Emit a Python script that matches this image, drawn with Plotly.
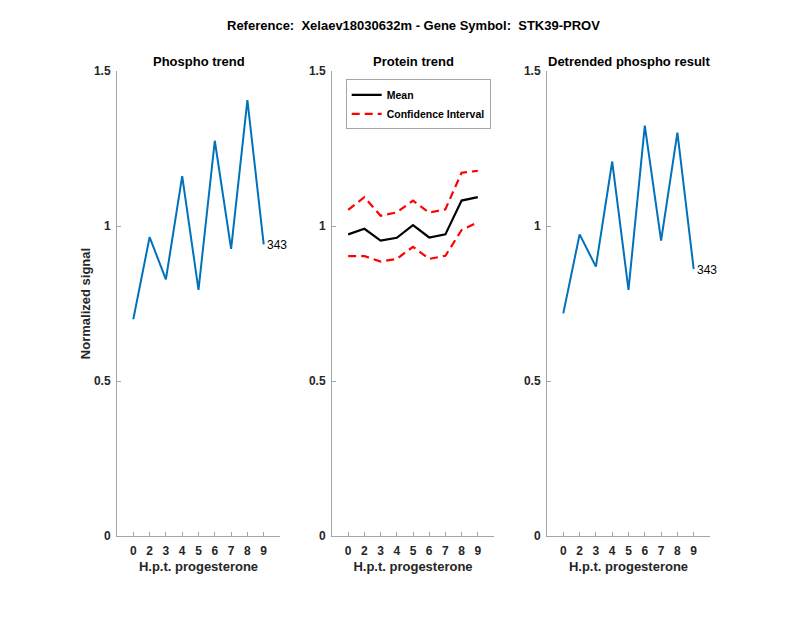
import plotly.graph_objects as go

hours = ["0", "2", "3", "4", "5", "6", "7", "8", "9"]
phospho = [0.699, 0.964, 0.828, 1.161, 0.794, 1.275, 0.926, 1.406, 0.941]
protein_mean = [0.973, 0.991, 0.953, 0.962, 1.003, 0.963, 0.973, 1.082, 1.093]
protein_upper = [1.052, 1.093, 1.033, 1.044, 1.082, 1.043, 1.054, 1.172, 1.178]
protein_lower = [0.903, 0.903, 0.885, 0.894, 0.933, 0.894, 0.904, 0.987, 1.012]
detrended = [0.718, 0.973, 0.869, 1.208, 0.794, 1.324, 0.953, 1.301, 0.861]
peptide_label = "343"
yticks = [0, 0.5, 1, 1.5]
ytick_text = ["0", "0.5", "1", "1.5"]

BLUE = "#0072BD"
FONT = "Liberation Sans, Arial, Helvetica, sans-serif"
AXCOL = "#a6a6a6"
TXT = "#262626"

W, H = 800, 618
OFF = 8  # page body offset


def px(x):
    return (x - OFF) / W


def py(y):
    return 1 - (y - OFF) / H


fig = go.Figure()

fig.add_trace(go.Scatter(x=hours, y=phospho, mode="lines", line=dict(color=BLUE, width=2),
                         showlegend=False, xaxis="x", yaxis="y"))
fig.add_trace(go.Scatter(x=hours, y=protein_mean, mode="lines", name="Mean",
                         line=dict(color="black", width=2.2), xaxis="x2", yaxis="y2"))
fig.add_trace(go.Scatter(x=hours, y=protein_upper, mode="lines", name="Confidence Interval",
                         line=dict(color="#ff0000", width=2.2, dash="8px,5px"), xaxis="x2", yaxis="y2"))
fig.add_trace(go.Scatter(x=hours, y=protein_lower, mode="lines", name="Confidence Interval",
                         line=dict(color="#ff0000", width=2.2, dash="8px,5px"), showlegend=False,
                         xaxis="x2", yaxis="y2"))
fig.add_trace(go.Scatter(x=hours, y=detrended, mode="lines", line=dict(color=BLUE, width=2),
                         showlegend=False, xaxis="x3", yaxis="y3"))

ydom = [py(536), py(71)]
xdoms = [[px(117), px(280)], [px(332), px(494)], [px(547), px(710)]]


def xax(dom, anchor):
    return dict(domain=dom, anchor=anchor, type="category", categoryorder="array",
                categoryarray=hours, range=[-1, 9], showline=True, linecolor=AXCOL, linewidth=1,
                ticks="inside", ticklen=4, tickcolor=AXCOL, showgrid=False, zeroline=False,
                automargin=False, ticklabelstandoff=4,
                tickfont=dict(family=FONT, size=12, color=TXT, weight="bold"),
                title=dict(text="H.p.t. progesterone", standoff=4,
                           font=dict(family=FONT, size=13, color=TXT, weight="bold")))


def yax(dom, anchor, title=None):
    d = dict(domain=dom, anchor=anchor, range=[0, 1.5], tickvals=yticks, ticktext=ytick_text,
             showline=True, linecolor=AXCOL, linewidth=1, ticks="inside", ticklen=4,
             tickcolor=AXCOL, showgrid=False, zeroline=False, automargin=False,
             ticklabelstandoff=3,
             tickfont=dict(family=FONT, size=12, color=TXT, weight="bold"))
    if title:
        d["title"] = dict(text=title, standoff=0,
                          font=dict(family=FONT, size=13, color=TXT, weight="bold"))
    return d


fig.update_layout(
    width=W, height=H,
    margin=dict(l=0, r=0, t=0, b=0, pad=0),
    paper_bgcolor="white", plot_bgcolor="white",
    xaxis=xax(xdoms[0], "y"), yaxis=yax(ydom, "x", "Normalized signal"),
    xaxis2=xax(xdoms[1], "y2"), yaxis2=yax(ydom, "x2"),
    xaxis3=xax(xdoms[2], "y3"), yaxis3=yax(ydom, "x3"),
    legend=dict(x=px(345.7), y=py(79.3), xanchor="left", yanchor="top",
                bgcolor="white", bordercolor=AXCOL, borderwidth=1,
                font=dict(family=FONT, size=10.5, color="black", weight="bold"),
                tracegroupgap=0, itemwidth=30),
    showlegend=True,
)

last = len(hours) - 1
annotations = [
    dict(text="Reference:  Xelaev18030632m - Gene Symbol:  STK39-PROV", x=px(413), y=py(26),
         xref="paper", yref="paper", showarrow=False, xanchor="center", yanchor="middle",
         font=dict(family=FONT, size=13, color="black", weight="bold")),
]
titles = ["Phospho trend", "Protein trend", "Detrended phospho result"]
for dom, t in zip(xdoms, titles):
    annotations.append(dict(text=t, x=(dom[0] + dom[1]) / 2, y=py(61), xref="paper",
                            yref="paper", showarrow=False, xanchor="center", yanchor="middle",
                            font=dict(family=FONT, size=13, color="black", weight="bold")))
annotations.append(dict(text=peptide_label, x=last, y=phospho[-1], xref="x", yref="y",
                        showarrow=False, xanchor="left", yanchor="middle", xshift=1, yshift=-1,
                        font=dict(family=FONT, size=12, color="black")))
annotations.append(dict(text=peptide_label, x=last, y=detrended[-1], xref="x3", yref="y3",
                        showarrow=False, xanchor="left", yanchor="middle", xshift=1, yshift=-1,
                        font=dict(family=FONT, size=12, color="black")))
fig.update_layout(annotations=annotations)

fig.write_html("out.html")
